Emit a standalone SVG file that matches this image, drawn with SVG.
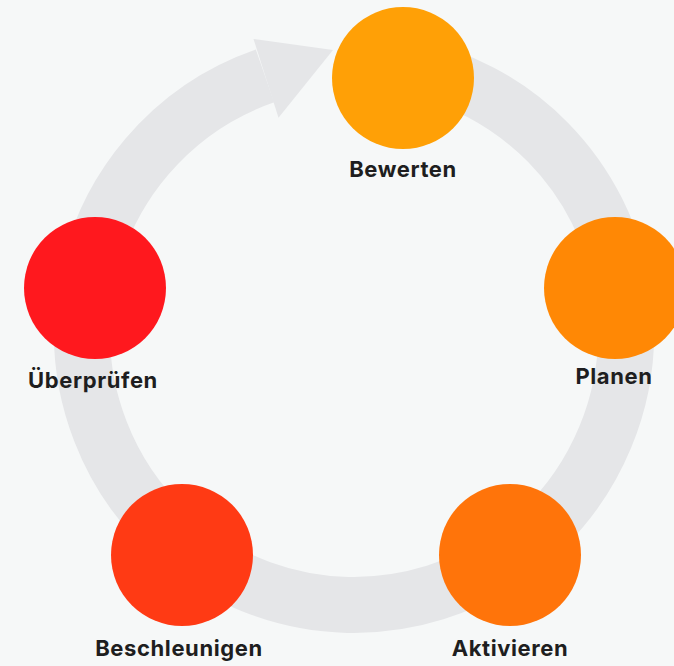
<svg xmlns="http://www.w3.org/2000/svg" width="674" height="666" viewBox="0 0 674 666">
<style>
.ring{fill:none;stroke:#E5E6E8;stroke-width:56;stroke-linecap:butt}
.head{fill:#E5E6E8}
.lbl{font-family:Inter,"Liberation Sans",sans-serif;font-weight:700;font-size:22px;letter-spacing:0.6px;fill:#1E1E20;text-anchor:middle}
</style>
<rect width="674" height="666" fill="#F6F8F8"/>
<g id="connectors">
<path class="ring" d="M405.4,65.9 A272,272 0 0 1 622.0,286.7"/>
<path class="ring" d="M622.0,286.7 A272,272 0 0 1 510.4,555.5"/>
<path class="ring" d="M510.4,555.5 A272,272 0 0 1 187.3,547.9"/>
<path class="ring" d="M187.3,547.9 A272,272 0 0 1 86.1,286.2"/>
<path class="ring" d="M86.1,286.2 A272,272 0 0 1 265.0,75.9"/>
<polygon class="head" points="253.5,39 333,50 278.5,117.7"/>
</g>
<g id="bewerten">
<circle cx="403" cy="78" r="71" fill="#FFA006"/>
<text class="lbl" x="403" y="177">Bewerten</text>
</g>
<g id="planen">
<circle cx="615" cy="288" r="71" fill="#FF8805"/>
<text class="lbl" x="614" y="384">Planen</text>
</g>
<g id="aktivieren">
<circle cx="510" cy="555" r="71" fill="#FF740A"/>
<text class="lbl" x="510" y="656">Aktivieren</text>
</g>
<g id="beschleunigen">
<circle cx="182" cy="555" r="71" fill="#FF3A14"/>
<text class="lbl" x="179" y="656">Beschleunigen</text>
</g>
<g id="ueberpruefen">
<circle cx="95" cy="288" r="71" fill="#FF181E"/>
<text class="lbl" x="93" y="388">Überprüfen</text>
</g>
</svg>
